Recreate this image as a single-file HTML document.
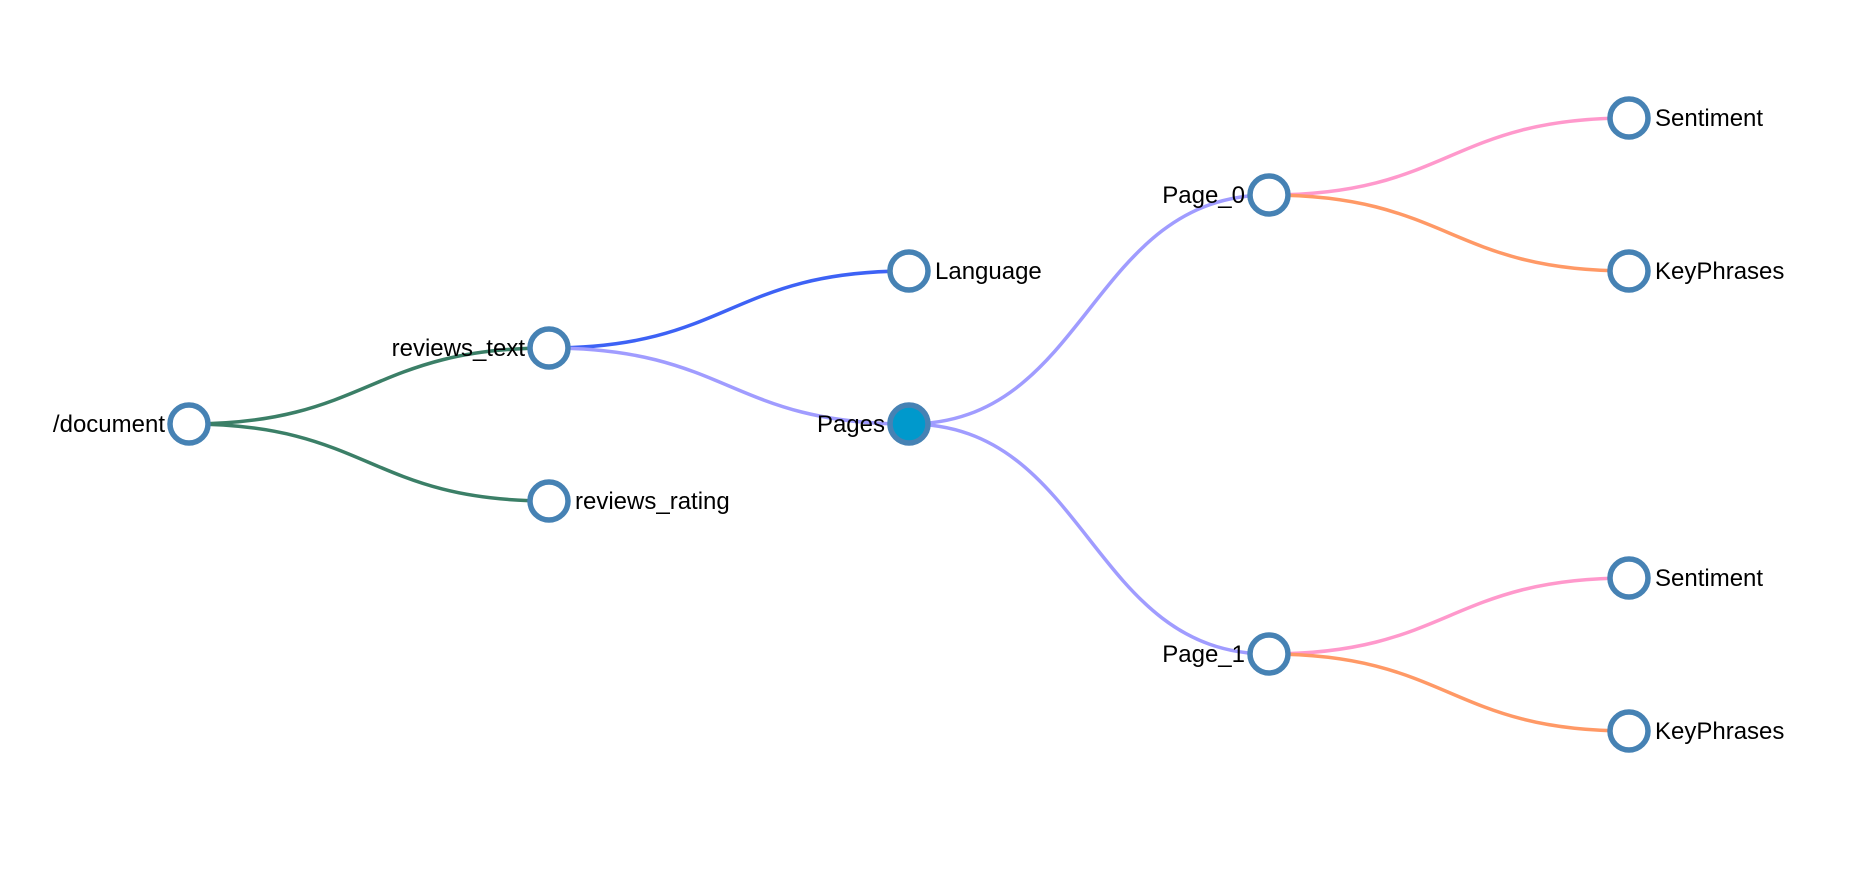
<!DOCTYPE html>
<html><head><meta charset="utf-8"><style>
html,body{margin:0;padding:0;background:#fff;}
svg{display:block}
text{font-family:"Liberation Sans",Arial,sans-serif;font-size:24px;fill:#000;}
.n{fill:#fff;stroke:#4682b4;stroke-width:5.5;}
path{fill:none;stroke-width:3.5;}
</style></head><body>
<svg width="1854" height="896" viewBox="0 0 1854 896">
<g>
<path d="M189,424 C369,424 369,348 549,348" stroke="#3b7f67"/>
<path d="M189,424 C369,424 369,501 549,501" stroke="#3b7f67"/>
<path d="M549,348 C729,348 729,271 909,271" stroke="#3d62f5"/>
<path d="M549,348 C729,348 729,424 909,424" stroke="#a09cff"/>
<path d="M909,424 C1089,424 1089,195 1269,195" stroke="#a09cff"/>
<path d="M909,424 C1089,424 1089,654 1269,654" stroke="#a09cff"/>
<path d="M1269,195 C1449,195 1449,118 1629,118" stroke="#ff99cc"/>
<path d="M1269,195 C1449,195 1449,271 1629,271" stroke="#ff9966"/>
<path d="M1269,654 C1449,654 1449,578 1629,578" stroke="#ff99cc"/>
<path d="M1269,654 C1449,654 1449,731 1629,731" stroke="#ff9966"/>
</g>
<circle class="n" cx="189" cy="424" r="19"/>
<circle class="n" cx="549" cy="348" r="19"/>
<circle class="n" cx="549" cy="501" r="19"/>
<circle class="n" cx="909" cy="271" r="19"/>
<circle class="n" cx="909" cy="424" r="19" style="fill:#0099cc"/>
<circle class="n" cx="1269" cy="195" r="19"/>
<circle class="n" cx="1269" cy="654" r="19"/>
<circle class="n" cx="1629" cy="118" r="19"/>
<circle class="n" cx="1629" cy="271" r="19"/>
<circle class="n" cx="1629" cy="578" r="19"/>
<circle class="n" cx="1629" cy="731" r="19"/>
<text x="165" y="432" text-anchor="end">/document</text>
<text x="525" y="356" text-anchor="end">reviews_text</text>
<text x="575" y="509">reviews_rating</text>
<text x="935" y="279">Language</text>
<text x="885" y="432" text-anchor="end">Pages</text>
<text x="1245" y="203" text-anchor="end">Page_0</text>
<text x="1245" y="662" text-anchor="end">Page_1</text>
<text x="1655" y="126">Sentiment</text>
<text x="1655" y="279">KeyPhrases</text>
<text x="1655" y="586">Sentiment</text>
<text x="1655" y="739">KeyPhrases</text>
</svg>
</body></html>
